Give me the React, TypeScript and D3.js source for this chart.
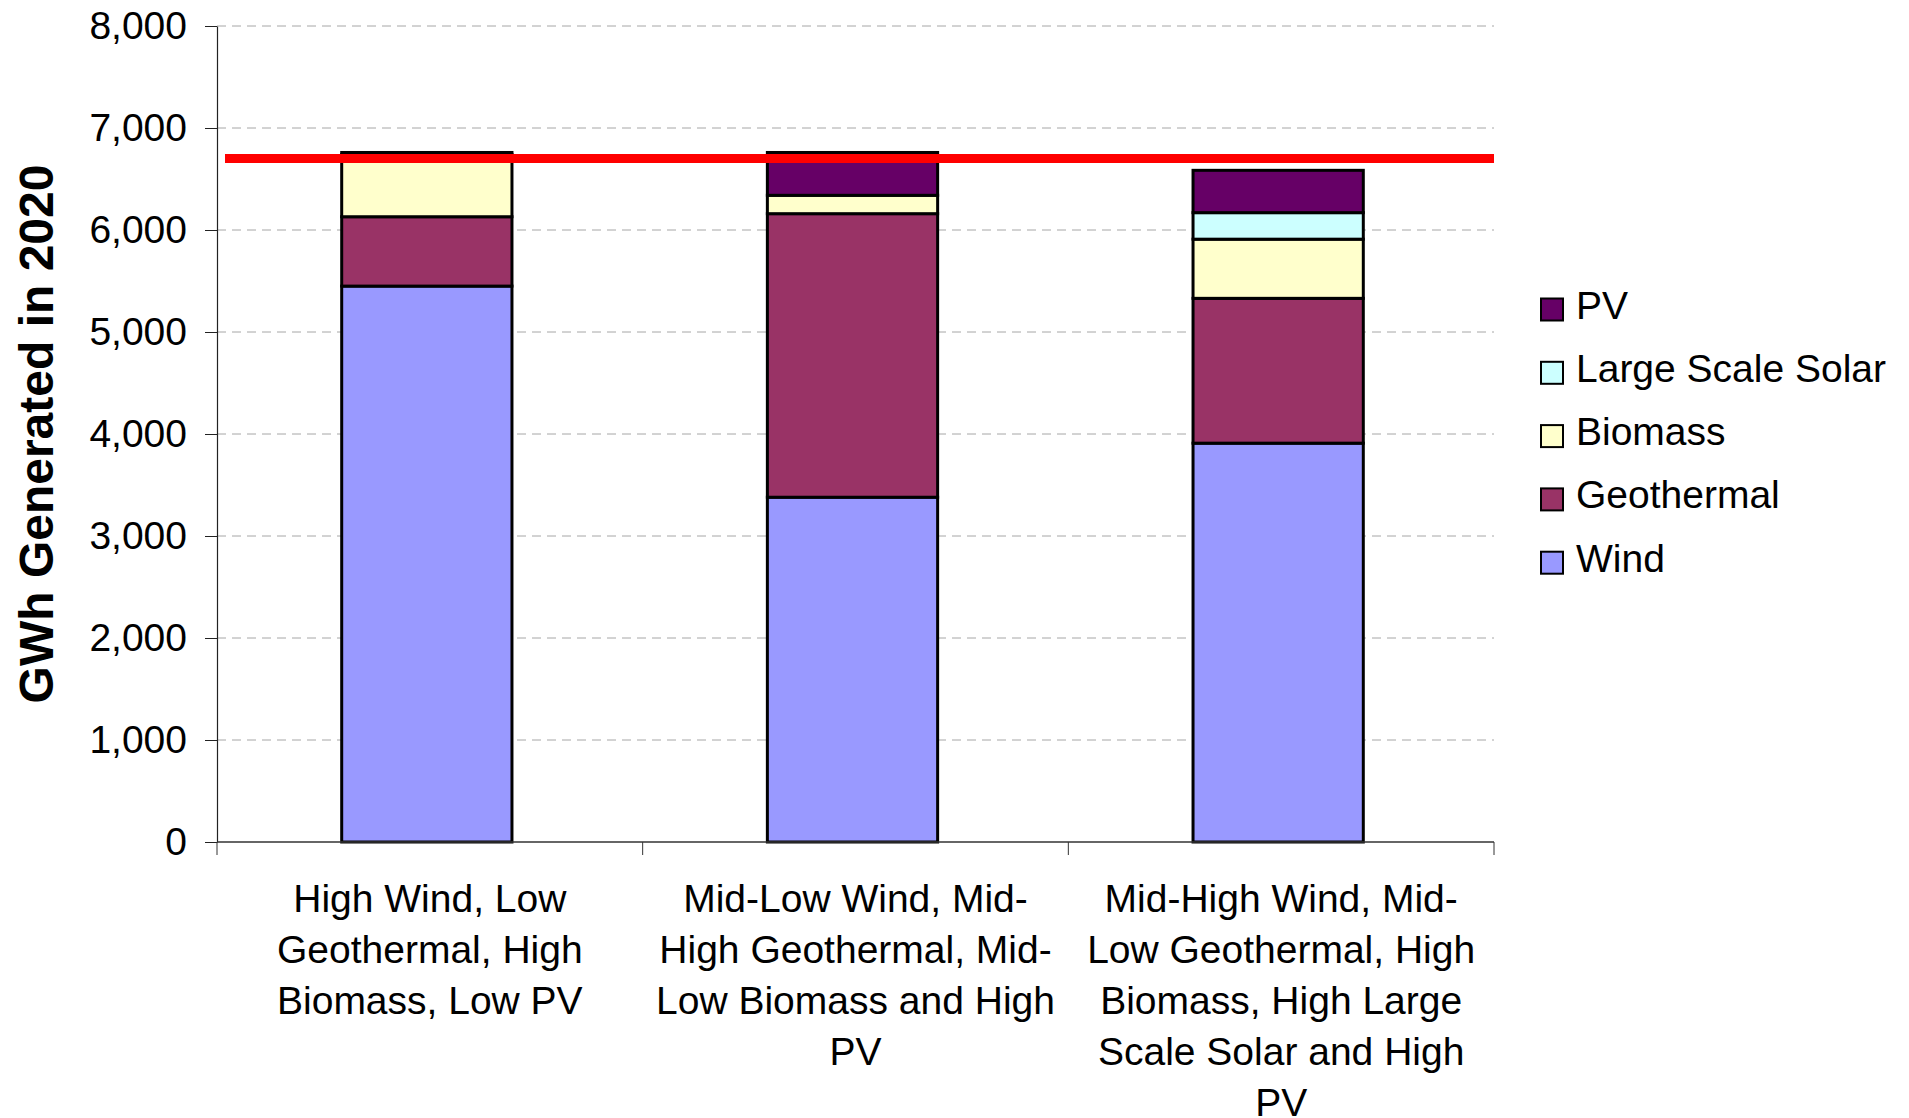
import * as d3 from "d3";
import { useEffect, useRef } from "react";

// scenarios on the x axis
const categories = ["S1", "S2", "S3"];
const categoryLabels = [
  ["High Wind, Low", "Geothermal, High", "Biomass, Low PV"],
  ["Mid-Low Wind, Mid-", "High Geothermal, Mid-", "Low Biomass and High", "PV"],
  [
    "Mid-High Wind, Mid-",
    "Low Geothermal, High",
    "Biomass, High Large",
    "Scale Solar and High",
    "PV",
  ],
];

// GWh per source, one value per scenario (bottom to top)
const seriesNames = ["Wind", "Geothermal", "Biomass", "Large Scale Solar", "PV"];
const wind = [5450, 3380, 3910];
const geothermal = [680, 2780, 1420];
const biomass = [610, 180, 580];
const largeScaleSolar = [0, 0, 260];
const pv = [20, 420, 415];

const yTicks = [0, 1000, 2000, 3000, 4000, 5000, 6000, 7000, 8000];
const target = 6700;

const colors: { [key: string]: string } = {
  Wind: "#9999FF",
  Geothermal: "#993366",
  Biomass: "#FFFFCC",
  "Large Scale Solar": "#CCFFFF",
  PV: "#660066",
};

const FONT = "'Liberation Sans', Arial, sans-serif";

const App = () => {
  const svgRef = useRef<SVGSVGElement>(null);

  useEffect(() => {
    if (!svgRef.current) return;
    const svg = d3.select(svgRef.current);
    svg.selectAll("*").remove();

    const width = 1909;
    const height = 1118;
    const marginLeft = 217;
    const plotRight = 1494;
    const plotTop = 26;
    const plotBottom = 842;

    const rows = categories.map((c, i) => ({
      category: c,
      Wind: wind[i],
      Geothermal: geothermal[i],
      Biomass: biomass[i],
      "Large Scale Solar": largeScaleSolar[i],
      PV: pv[i],
    }));

    const stacked = d3.stack<any>().keys(seriesNames)(rows);

    // bars sit a touch left of the category centre, like the original
    const x = d3
      .scaleBand()
      .domain(categories)
      .range([marginLeft - 3, plotRight - 3])
      .paddingInner(0.6)
      .paddingOuter(0.3);

    const xCat = d3
      .scaleBand()
      .domain(categories)
      .range([marginLeft, plotRight])
      .padding(0);

    const y = d3.scaleLinear().domain([0, 8000]).range([plotBottom, plotTop]);

    svg.attr("width", width).attr("height", height).attr("viewBox", [0, 0, width, height]);

    // gridlines
    svg
      .append("g")
      .selectAll("line")
      .data(yTicks.filter((t) => t > 0))
      .join("line")
      .attr("x1", marginLeft)
      .attr("x2", plotRight)
      .attr("y1", (d) => y(d))
      .attr("y2", (d) => y(d))
      .attr("stroke", "#a6a6a6")
      .attr("stroke-width", 1)
      .attr("stroke-dasharray", "9,6");

    // stacked bars
    svg
      .append("g")
      .selectAll("g")
      .data(stacked)
      .join("g")
      .attr("fill", (s) => colors[s.key])
      .selectAll("rect")
      .data((s) => s.filter((d) => d[1] - d[0] > 0))
      .join("rect")
      .attr("x", (d) => x(d.data.category)!)
      .attr("y", (d) => y(d[1]))
      .attr("width", x.bandwidth())
      .attr("height", (d) => y(d[0]) - y(d[1]))
      .attr("stroke", "#000")
      .attr("stroke-width", 3);

    // target line
    svg
      .append("line")
      .attr("x1", marginLeft + 8)
      .attr("x2", plotRight)
      .attr("y1", y(target))
      .attr("y2", y(target))
      .attr("stroke", "#ff0000")
      .attr("stroke-width", 9);

    // y axis
    const yAxis = svg
      .append("g")
      .attr("transform", `translate(${marginLeft},0)`)
      .call(
        d3
          .axisLeft(y)
          .tickValues(yTicks)
          .tickSize(12)
          .tickSizeOuter(0)
          .tickPadding(18)
          .tickFormat(d3.format(","))
      );
    yAxis.select(".domain").attr("stroke", "#222").attr("stroke-width", 1.2);
    yAxis.selectAll(".tick line").attr("stroke", "#222");
    yAxis
      .selectAll(".tick text")
      .attr("font-family", FONT)
      .attr("font-size", 39)
      .attr("fill", "#000");

    // x axis (ticks at category boundaries)
    svg
      .append("line")
      .attr("x1", marginLeft)
      .attr("x2", plotRight)
      .attr("y1", plotBottom)
      .attr("y2", plotBottom)
      .attr("stroke", "#333")
      .attr("stroke-width", 1.5);

    const bounds = [...categories.map((c) => xCat(c)!), plotRight];
    svg
      .append("g")
      .selectAll("line")
      .data(bounds)
      .join("line")
      .attr("x1", (d) => d)
      .attr("x2", (d) => d)
      .attr("y1", plotBottom)
      .attr("y2", plotBottom + 13)
      .attr("stroke", "#333")
      .attr("stroke-width", 1);

    // x labels
    const labels = svg
      .append("g")
      .attr("font-family", FONT)
      .attr("font-size", 39)
      .attr("text-anchor", "middle")
      .selectAll("text")
      .data(categories)
      .join("text")
      .attr("x", (c) => xCat(c)! + xCat.bandwidth() / 2)
      .attr("y", 912);
    labels
      .selectAll("tspan")
      .data((c) => categoryLabels[categories.indexOf(c as string)])
      .join("tspan")
      .attr("x", function () {
        return (this.parentNode as SVGTextElement).getAttribute("x");
      })
      .attr("dy", (_d, i) => (i === 0 ? 0 : 51))
      .text((d) => d);

    // y title
    svg
      .append("text")
      .attr("transform", `translate(53,${(plotTop + plotBottom) / 2}) rotate(-90)`)
      .attr("text-anchor", "middle")
      .attr("font-family", FONT)
      .attr("font-weight", "bold")
      .attr("font-size", 48)
      .text("GWh Generated in 2020");

    // legend
    const legendItems = [...seriesNames].reverse();
    const legend = svg
      .append("g")
      .attr("font-family", FONT)
      .attr("font-size", 39)
      .selectAll("g")
      .data(legendItems)
      .join("g")
      .attr("transform", (_d, i) => `translate(1541,${309.5 + i * 63.3})`);
    legend
      .append("rect")
      .attr("x", 0)
      .attr("y", -11)
      .attr("width", 22)
      .attr("height", 22)
      .attr("fill", (d) => colors[d])
      .attr("stroke", "#000")
      .attr("stroke-width", 2);
    legend
      .append("text")
      .attr("x", 35)
      .attr("y", 9)
      .text((d) => d);
  }, []);

  return (
    <svg
      ref={svgRef}
      style={{ position: "absolute", left: 0, top: 0, display: "block", background: "#fff" }}
    ></svg>
  );
};

export default App;
